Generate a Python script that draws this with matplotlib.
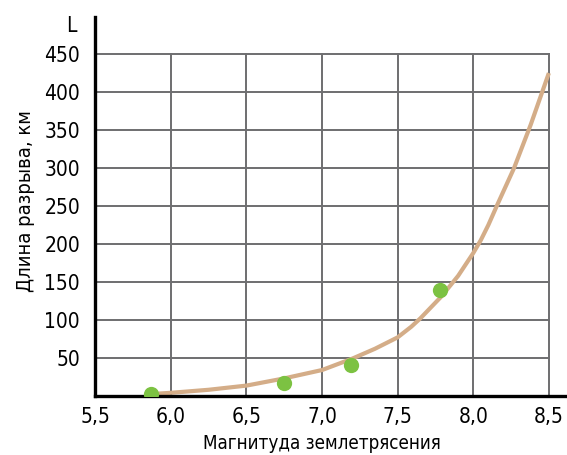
import matplotlib
matplotlib.use("Agg")
import matplotlib.pyplot as plt
import matplotlib.transforms as mtransforms

plt.rcParams['font.family'] = ['Liberation Sans Narrow', 'DejaVu Sans']
plt.rcParams['font.stretch'] = 'condensed'

# observed earthquakes: magnitude vs rupture length (km)
point_mag = [5.87, 6.745, 7.19, 7.78]
point_len = [2.5, 17, 40.5, 139]

# fitted curve
curve_mag = [5.88, 6.0, 6.25, 6.5, 6.75, 7.0, 7.2, 7.35, 7.5, 7.59, 7.65,
             7.79, 7.9, 8.0, 8.05, 8.1, 8.16, 8.27, 8.38, 8.5]
curve_len = [2.5, 4, 8, 13.5, 23, 34, 49, 62, 77, 91, 102,
             131, 158, 188, 205, 225, 252, 300, 357, 425]

x_ticks = [5.5, 6.0, 6.5, 7.0, 7.5, 8.0, 8.5]
x_labels = ["5,5", "6,0", "6,5", "7,0", "7,5", "8,0", "8,5"]
y_ticks = [50, 100, 150, 200, 250, 300, 350, 400, 450]

fig = plt.figure(figsize=(5.67, 4.55), dpi=100)
ax = fig.add_axes([0.168, 0.13, 0.832, 0.833])
ax.set_xlim(5.5, 8.62)
ax.set_ylim(0, 499)

# grid only inside the 5.5-8.5 / 0-450 box
grid_col = "#6e6e70"
for yv in y_ticks:
    ax.plot([5.5, 8.5], [yv, yv], color=grid_col, lw=1.4, zorder=1)
for xv in x_ticks[1:]:
    ax.plot([xv, xv], [0, 450], color=grid_col, lw=1.4, zorder=1)

ax.plot(curve_mag, curve_len, color="#d4ad88", lw=3.0, solid_capstyle="butt", zorder=2)
ax.plot(point_mag, point_len, "o", color="#7cc242", ms=11, mec="none", zorder=3)

for s in ["top", "right"]:
    ax.spines[s].set_visible(False)
for s in ["left", "bottom"]:
    ax.spines[s].set_linewidth(2.4)
    ax.spines[s].set_color("black")

ax.set_xticks(x_ticks)
ax.set_xticklabels(x_labels)
ax.set_yticks(y_ticks)
ax.tick_params(length=0, labelsize=15, pad=8)
ax.tick_params(axis="y", pad=11)

ax.set_ylabel("Длина разрыва, км", fontsize=14.5)
ax.yaxis.set_label_coords(-0.128, 0.515)
trans = mtransforms.blended_transform_factory(ax.transData, fig.transFigure)
ax.text(7.0, 0.005, "Магнитуда землетрясения", transform=trans,
        ha="center", va="bottom", fontsize=13.5)
ax.text(5.34, 487, "L", ha="center", va="center", fontsize=15)

fig.savefig("out.png", dpi=100)
